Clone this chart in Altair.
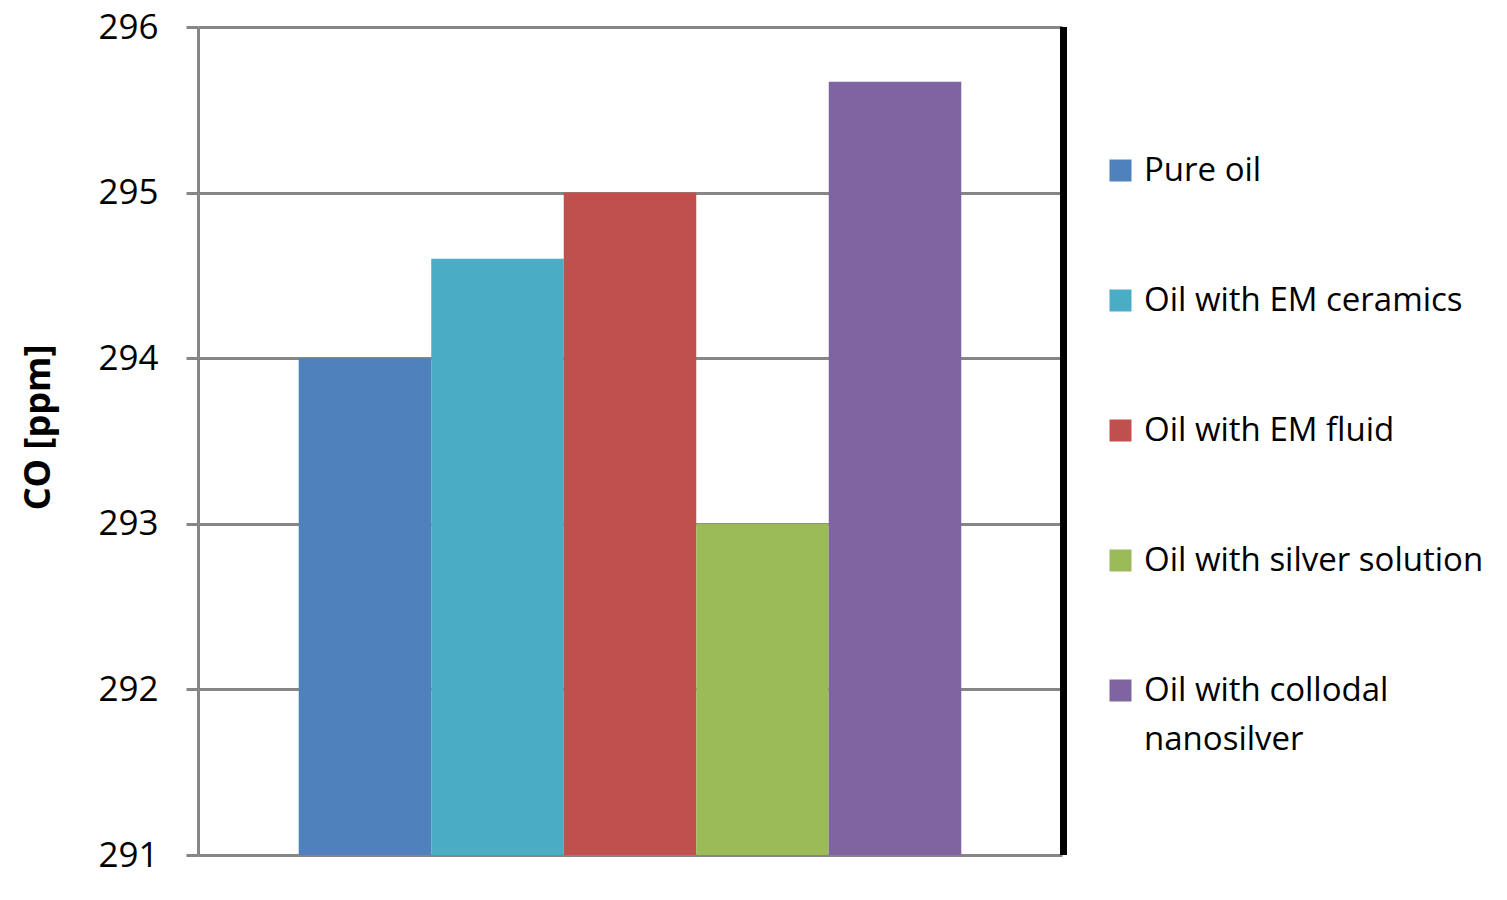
import altair as alt
import pandas as pd

series = ["Pure oil", "Oil with EM ceramics", "Oil with EM fluid",
          "Oil with silver solution", "Oil with collodal nanosilver"]
values = [294.0, 294.6, 295.0, 293.0, 295.67]
colors = ["#4F81BD", "#4BACC6", "#C0504D", "#9BBB59", "#8064A2"]
y_ticks = [291, 292, 293, 294, 295, 296]
y_domain = [291, 296]
y_base = 291

df = pd.DataFrame({"series": series, "co": values})

FONT = "Open Sans"
GRAY = "#868686"
W, H = 864, 828

bars = alt.Chart(df).mark_bar().encode(
    x=alt.X("series:N", sort=series, axis=None,
            scale=alt.Scale(paddingInner=0, paddingOuter=0.76)),
    y=alt.Y("co:Q",
            scale=alt.Scale(domain=y_domain, nice=False, zero=False),
            axis=alt.Axis(values=y_ticks, title="CO [ppm]",
                          titleFont=FONT, titleFontSize=36, titleFontWeight="bold",
                          titleColor="black", titleAngle=270,
                          titleX=-160, titleY=400, titleAlign="center",
                          titleBaseline="middle",
                          labelFont=FONT, labelFontSize=35, labelColor="black",
                          labelPadding=28, tickSize=12, tickWidth=3, tickColor=GRAY,
                          domainColor=GRAY, domainWidth=3,
                          grid=True, gridColor=GRAY, gridWidth=3)),
    y2=alt.datum(y_base),
    color=alt.Color("series:N",
                    scale=alt.Scale(domain=series, range=colors),
                    legend=alt.Legend(orient="none", legendX=906, legendY=127,
                                      title=None, padding=0,
                                      symbolType="square", symbolSize=484,
                                      symbolStrokeWidth=0, symbolOpacity=1,
                                      labelFont=FONT, labelFontSize=33,
                                      labelColor="black", labelOffset=7,
                                      labelLimit=0, rowPadding=96,
                                      labelExpr="datum.label == 'Oil with collodal nanosilver' ? ['Oil with collodal', 'nanosilver'] : datum.label")),
)

border = alt.Chart(pd.DataFrame({"edge": [0]})).mark_rule(
    color="black", strokeWidth=7
).encode(x=alt.value(W + 1.5), y=alt.value(0), y2=alt.value(H))

chart = alt.layer(bars, border).properties(
    width=W, height=H,
    padding={"left": 190, "top": 19, "right": 430, "bottom": 30},
    autosize=alt.AutoSizeParams(type="none"),
).configure_view(stroke=None).configure(
    style={"guide-label": {"lineHeight": 49}}
)

chart.save("out.html", embed_options={"renderer": "svg", "actions": False})
